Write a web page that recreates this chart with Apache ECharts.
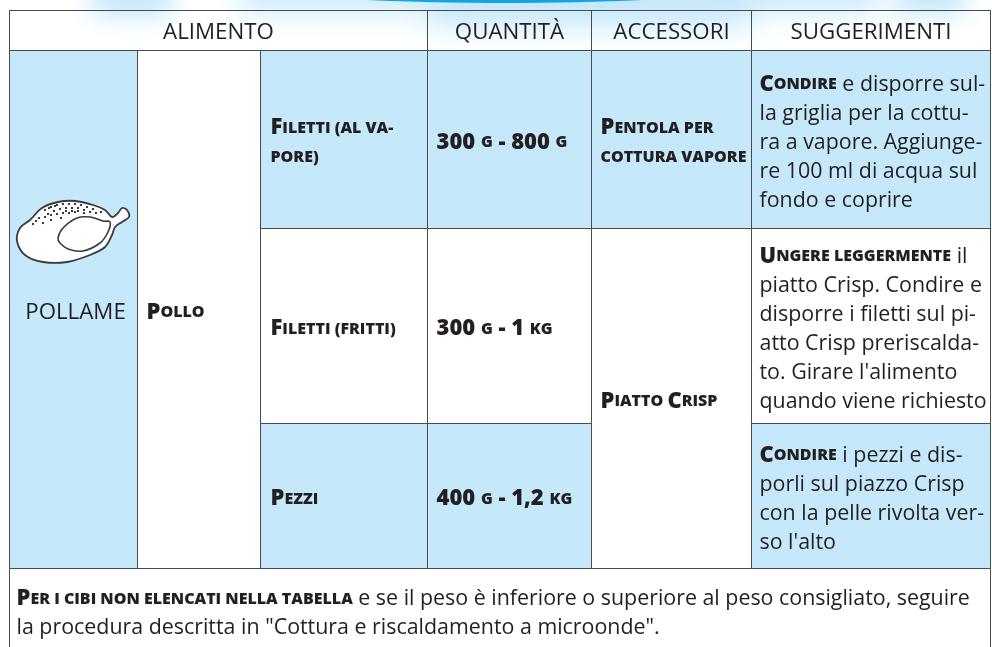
<!DOCTYPE html>
<html><head><meta charset="utf-8">
<style>html,body{margin:0;padding:0;background:#fff}#c{width:992px;height:647px}</style>
<script src="https://cdn.jsdelivr.net/npm/echarts@6/dist/echarts.min.js"></script>
</head><body><div id="c"></div>
<script>
const columnKeys = ['gruppo','alimento','taglio','quantita','accessori','suggerimenti'];
const rowKeys = ['intestazione','filettiVapore','filettiFritti','pezzi','nota'];
const headers = ['ALIMENTO','QUANTITÀ','ACCESSORI','SUGGERIMENTI'];
const gruppo = 'POLLAME';
const alimento = '{b|P}{s|OLLO}';
const tagli = ['{b|F}{s|ILETTI (AL VA-}\n{s|PORE)}','{b|F}{s|ILETTI (FRITTI)}','{b|P}{s|EZZI}'];
const quantita = ['{n|300 }{s|G}{n| - 800 }{s|G}','{n|300 }{s|G}{n| - 1 }{s|KG}','{n|400 }{s|G}{n| - 1,2 }{s|KG}'];
const accessori = ['{b|P}{s|ENTOLA PER}\n{s|COTTURA VAPORE}','{b|P}{s|IATTO }{b|C}{s|RISP}'];
const suggerimenti = [
 '{b|C}{s|ONDIRE}{t| e disporre sul-}\n{t|la griglia per la cottu-}\n{t|ra a vapore. Aggiunge-}\n{t|re 100 ml di acqua sul}\n{t|fondo e coprire}',
 '{b|U}{s|NGERE LEGGERMENTE}{t| il}\n{t|piatto Crisp. Condire e}\n{t|disporre i filetti sul pi-}\n{t|atto Crisp preriscalda-}\n{t|to. Girare l\'alimento}\n{t|quando viene richiesto}',
 '{b|C}{s|ONDIRE}{t| i pezzi e dis-}\n{t|porli sul piazzo Crisp}\n{t|con la pelle rivolta ver-}\n{t|so l\'alto}'
];
const nota = '{b|P}{s|ER I CIBI NON ELENCATI NELLA TABELLA}{t| e se il peso è inferiore o superiore al peso consigliato, seguire}\n{t|la procedura descritta in "Cottura e riscaldamento a microonde".}';

const colSizes = [128,123,167,164,160,238.5];
const rowSizes = [39.5,178,195,145,84];
const LH = 29;
const BLUE = '#c5e8fa', INK = '#231f20', FONT = '"Open Sans"';

const rich = {
  b:{fontFamily:FONT,fontWeight:800,fontSize:22,color:INK,lineHeight:LH},
  s:{fontFamily:FONT,fontWeight:800,fontSize:16,color:INK,lineHeight:LH},
  n:{fontFamily:FONT,fontWeight:800,fontSize:22,color:INK,lineHeight:LH},
  t:{fontFamily:FONT,fontSize:21.4,color:INK,lineHeight:LH},
  h:{fontFamily:FONT,fontSize:22.3,color:INK,lineHeight:LH}
};
function cell(x,y,value,fill,label){
  return {coord:[x,y],value,mergeCells:Array.isArray(x)||Array.isArray(y),itemStyle:{color:fill,borderColor:'#4a4a4a',borderWidth:1},label};
}
function rowSpan(y){const ys=Array.isArray(y)?y:[y,y];let h=0;for(let i=ys[0];i<=ys[1];i++)h+=rowSizes[i];return h;}
function textCell(x,y,value,fill,pad){
  const lines=value.split('\n').length;
  const top=(rowSpan(y)-lines*LH)/2+3;
  return cell(x,y,value,fill,{position:'insideLeft',align:'left',verticalAlign:'middle',padding:[top,0,0,pad],overflow:'none',fontFamily:FONT,fontSize:21.4,color:INK,lineHeight:LH,rich});
}
function headCell(x,y,value,fill,shiftY,padLeft){
  const top=(rowSpan(y)-LH)/2+shiftY;
  return cell(x,y,'{h|'+value+'}',fill,{align:'center',verticalAlign:'middle',padding:[top,0,0,padLeft],overflow:'none',fontFamily:FONT,fontSize:22.3,color:INK,lineHeight:LH,rich});
}
const bodyCells = [
  headCell([0,2],0,headers[0],'transparent',2,0),
  headCell(3,0,headers[1],'transparent',2,0),
  headCell(4,0,headers[2],'transparent',2,0),
  headCell(5,0,headers[3],'transparent',2,0),
  headCell(0,[1,3],gruppo,BLUE,3,4),
  textCell(1,[1,3],alimento,'#fff',9),
  textCell(2,1,tagli[0],BLUE,10), textCell(2,2,tagli[1],'#fff',10), textCell(2,3,tagli[2],BLUE,10),
  textCell(3,1,quantita[0],BLUE,9), textCell(3,2,quantita[1],'#fff',9), textCell(3,3,quantita[2],BLUE,9),
  textCell(4,1,accessori[0],BLUE,9), textCell(4,[2,3],accessori[1],'#fff',9),
  textCell(5,1,suggerimenti[0],BLUE,8), textCell(5,2,suggerimenti[1],'#fff',8), textCell(5,3,suggerimenti[2],BLUE,8),
  textCell([0,5],4,nota,'#fff',7)
];
const glow = (x,w,h,blur)=>({type:'rect',z:0,silent:true,shape:{x:x-3000,y:-30,width:w,height:30+h},
  style:{fill:'#000',shadowBlur:blur,shadowColor:BLUE,shadowOffsetX:3000}});
const chart = echarts.init(document.getElementById('c'));
const body = [[17,241],[20,228],[30,220],[42,208],[58,202],[75,201],[93,205],[105,210],[112,217],[118,213],[122,208],[127,210],[129,217],[122,222],[115,227],[112,235],[105,247],[90,255],[67,262],[43,262],[25,255]];
const wing = [[58,238],[63,228],[77,218],[90,217],[103,221],[110,222],[108,232],[100,243],[83,251],[68,249],[60,243]];
const dots = [[44,209],[50,206],[56,204],[62,203],[68,203],[74,203],[80,204],[86,206],[92,208],[47,213],[53,210],[59,208],[65,207],[71,207],[77,207],[83,209],[89,211],[95,212],[38,217],[44,216],[50,214],[56,213],[62,212],[68,212],[74,211],[32,223],[42,222],[50,219],[60,217],[48,207],[54,205],[100,211],[65,210],[71,210],[77,210],[83,212],[35,220]];
chart.setOption({
  animation:false,
  backgroundColor:'#fff',
  matrix:{
    z:5,
    left:9.5,top:10.5,width:980.5,height:rowSizes.reduce((a,b)=>a+b,0),
    x:{show:false,data:columnKeys.map((k,i)=>({value:k,size:colSizes[i]}))},
    y:{show:false,data:rowKeys.map((k,i)=>({value:k,size:rowSizes[i]}))},
    body:{itemStyle:{borderColor:'#4a4a4a',borderWidth:1,color:'transparent'},data:bodyCells},
    backgroundStyle:{color:'transparent',borderColor:'#4a4a4a',borderWidth:1}
  },
  graphic:[
    glow(92,80,16,24), glow(240,640,10,30), glow(430,320,24,34), glow(895,70,14,24),
    {type:'ellipse',z:1,silent:true,shape:{cx:505,cy:-28,rx:320,ry:31},style:{fill:'#12a5e4'}},
    {type:'polygon',z:50,silent:true,shape:{points:body,smooth:0.35},style:{fill:'#fff',stroke:'#3a3a3a',lineWidth:1.8}},
    {type:'polygon',z:51,silent:true,shape:{points:wing,smooth:0.4},style:{fill:'none',stroke:'#3a3a3a',lineWidth:1.6}},
    {type:'group',z:52,silent:true,children:dots.map(p=>({type:'rect',z:52,shape:{x:p[0],y:p[1],width:2,height:2},style:{fill:'#3a3a3a'}}))}
  ]
});
</script></body></html>
